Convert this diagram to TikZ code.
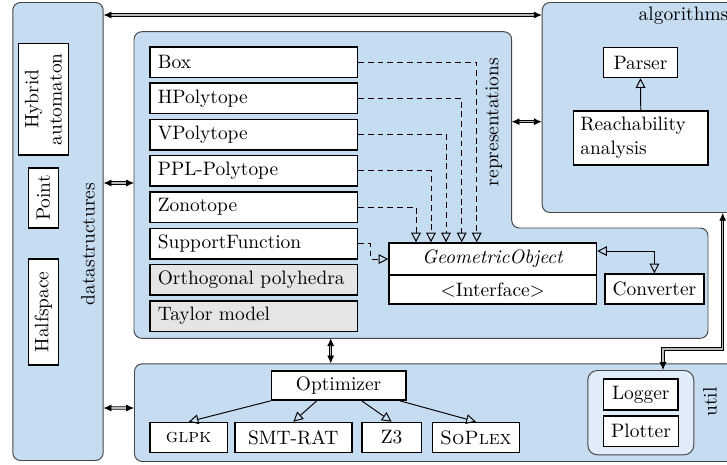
\documentclass[tikz,border=0pt]{standalone}
\usetikzlibrary{arrows.meta,calc}
\definecolor{regionblue}{RGB}{198,220,240}
\definecolor{innerblue}{RGB}{224,236,248}
\definecolor{regionedge}{RGB}{70,70,70}
\definecolor{grayfill}{RGB}{229,229,229}
\newcommand\pxu{0.515pt}
\tikzset{
  region/.style={draw=regionedge, fill=regionblue, line width=0.5pt, rounded corners=4pt},
  regionnode/.style={region, anchor=north west, inner sep=0pt},
  item/.style={draw=black, fill=white, line width=0.8pt, inner xsep=4pt, inner ysep=0pt, anchor=north west},
  sz/.style 2 args={minimum width=#1*\pxu, minimum height=#2*\pxu},
  reprbox/.style={item, sz={207.4}{30.5}, text width=98.8pt, align=left},
  dblarrow/.style={draw=black, line width=0.4pt, double=gray!55, double distance=0.8pt,
    {Latex[length=4pt,width=3.6pt]}-{Latex[length=4pt,width=3.6pt]}},
  impl/.style={draw=black, dash pattern=on 3pt off 2pt, line width=0.5pt, -{Triangle[open,length=5pt,width=5pt]}},
  inherit/.style={draw=black, line width=0.5pt, -{Triangle[open,length=5pt,width=5pt]}},
  biinherit/.style={draw=black, line width=0.5pt, {Triangle[open,length=5pt,width=5pt]}-{Triangle[open,length=5pt,width=5pt]}},
  lbl/.style={rotate=90, inner sep=0pt},
}
\begin{document}
\begin{tikzpicture}[x=0.515pt, y=-0.515pt]
\useasboundingbox (0,0) rectangle (727,464);

% regions
\node[regionnode, sz={90.4}{458}] (ds) at (12.3,2) {};
\node[regionnode, sz={200}{210}] (alg) at (541.7,2) {};
\draw[region] (134,31.7) -- (511.7,31.7) -- (511.7,228) -- (708,228) -- (708,338.3) -- (134,338.3) -- cycle;
\node[regionnode, sz={610}{97.7}] (util) at (134,363.3) {};
\node[regionnode, fill=innerblue, rounded corners=5pt, sz={106}{84.3}] (cont) at (587.3,370) {};

\coordinate (repW1) at (134,183);
\coordinate (repE) at (511.7,121.7);
\coordinate (repS) at (330.7,338.3);
\coordinate (bend) at (722.7,349);

% labels
\node[lbl] (dslbl) at (88,244) {datastructures};
\node[lbl] (replbl) at (494,122) {representations};
\node[lbl] (utillbl) at (710,402) {util};
\node[anchor=base west, inner sep=0pt] (alglbl) at (638.3,20.5) {algorithms};

% region connectors
\draw[dblarrow] ($(ds.north east)+(0,13)$) -- ($(alg.north west)+(0,13)$);
\draw[dblarrow] (ds.east |- repW1) -- (repW1);
\draw[dblarrow] ($(ds.north east)+(0,406)$) -- ($(util.north west)+(0,44.7)$);
\draw[dblarrow] (repE) -- (alg.west |- repE);
\draw[dblarrow] (repS) -- (repS |- util.north);
\draw[dblarrow] ($(cont.north west)+(75.7,0)$) |- (bend) -- (bend |- alg.south);

% datastructures
\node[item, anchor=center, rotate=90, sz={111.7}{50}, align=center, inner sep=0pt] (hybrid) at (43.3,99.2) {Hybrid\\automaton};
\node[item, anchor=center, rotate=90, sz={60}{30}, inner sep=0pt] (point) at (43.3,198) {Point};
\node[item, anchor=center, rotate=90, sz={106}{30}, inner sep=0pt] (halfspace) at (43.3,312) {Halfspace};

% representations
\node[reprbox] (box) at (149.3,46) {Box};
\node[reprbox] (hpoly) at (149.3,82.3) {HPolytope};
\node[reprbox] (vpoly) at (149.3,118.6) {VPolytope};
\node[reprbox] (ppl) at (149.3,154.9) {PPL-Polytope};
\node[reprbox] (zono) at (149.3,191.2) {Zonotope};
\node[reprbox] (sf) at (149.3,227.5) {SupportFunction};
\node[reprbox, fill=grayfill] (orth) at (149.3,263.8) {Orthogonal polyhedra};
\node[reprbox, fill=grayfill] (taylor) at (149.3,300.1) {Taylor model};

\node[item, sz={207.4}{32}] (gotop) at (388.3,242.3) {\textit{GeometricObject}};
\node[item, sz={207.4}{29}] (gobot) at (388.3,274.3) {$<$Interface$>$};
\node[item, sz={97.7}{30}] (conv) at (604,273.3) {Converter};

\draw[impl] (box.east) -| ($(gotop.north west)+(88.4,0)$);
\draw[impl] (hpoly.east) -| ($(gotop.north west)+(73.4,0)$);
\draw[impl] (vpoly.east) -| ($(gotop.north west)+(57.7,0)$);
\draw[impl] (ppl.east) -| ($(gotop.north west)+(42.7,0)$);
\draw[impl] (zono.east) -| ($(gotop.north west)+(27.7,0)$);
\draw[impl] (sf.east) -- ++(12.3,0) |- (gotop.west);
\draw[biinherit] ($(gotop.east)+(0,-8)$) -| (conv.north);

% algorithms
\node[item, sz={74}{30}] (parser) at (602.7,46.7) {Parser};
\node[item, sz={134.6}{54}, text width=62.3pt, align=left, inner xsep=3.5pt] (reach) at (572.7,110) {Reachability\\analysis};
\draw[inherit] (reach.north) -- (parser.south);

% util
\node[item, sz={134.3}{29.3}] (opt) at (270.7,370) {Optimizer};
\node[item, sz={77.4}{30}] (glpk) at (149.3,421.7) {\textsc{glpk}};
\node[item, sz={117}{30}] (smt) at (234,421.7) {SMT-RAT};
\node[item, sz={59.7}{30}] (zthree) at (361,421.7) {Z3};
\node[item, sz={85}{30}] (soplex) at (431.7,421.7) {\textsc{SoPlex}};
\draw[inherit] (opt.south west) -- (glpk.north);
\draw[inherit] ($(opt.south west)+(46,0)$) -- (smt.north);
\draw[inherit] ($(opt.south west)+(91,0)$) -- (zthree.north);
\draw[inherit] ($(opt.south west)+(129.3,0)$) -- (soplex.north);

\node[item, sz={74.6}{30.7}] (logger) at (602.7,378.3) {Logger};
\node[item, sz={74.6}{30.7}] (plotter) at (602.7,415) {Plotter};
\end{tikzpicture}
\end{document}
